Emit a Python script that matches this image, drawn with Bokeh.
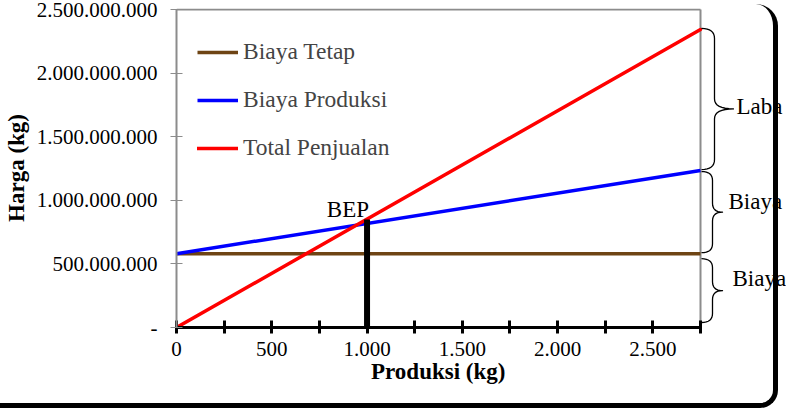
from bokeh.plotting import figure
from bokeh.models import Range1d, FixedTicker, Legend, LegendItem, Label, InlineStyleSheet, Title
from bokeh.core.properties import value
from bokeh.embed import file_html
from bokeh.resources import INLINE

# ---------------- data ----------------
produksi = [0, 2750]
biaya_tetap = [580000000, 580000000]
biaya_produksi = [580000000, 1234000000]
total_penjualan = [0, 2343000000]
bep_x = [1000]
bep_y = [850000000]
bep_text = "BEP"

x_ticks = [0, 500, 1000, 1500, 2000, 2500]
x_tick_labels = ["0", "500", "1.000", "1.500", "2.000", "2.500"]
x_minor_ticks = [250, 750, 1250, 1750, 2250, 2750]
y_ticks = [0, 500000000, 1000000000, 1500000000, 2000000000, 2500000000]
y_tick_labels = ["-", "500.000.000", "1.000.000.000", "1.500.000.000",
                 "2.000.000.000", "2.500.000.000"]
series_names = ["Biaya Tetap", "Biaya Produksi", "Total Penjualan"]
brace_labels = ["Laba", "Biaya", "Biaya"]
x_title = "Produksi (kg)"
y_title = "Harga (kg)"

X_MAX = 2750
Y_MAX = 2500000000

# ---------------- layout ----------------
W, H = 786, 408
LEFT, TOP, BOTTOM = 176, 8, 81
PLOT_W, PLOT_H = 524, 318          # pixel size of the data area (0..X_MAX, 0..Y_MAX)
DX = X_MAX / PLOT_W                 # data units per pixel
DY = Y_MAX / PLOT_H
FRAME_W = W - LEFT
FRAME_H = H - TOP - BOTTOM
Y0PX = TOP + FRAME_H                # pixel row of y = 0

def xd(px):
    return (px - LEFT) * DX

def yd(py):
    return (Y0PX - py) * DY

def ypx(v):
    return Y0PX - v / DY

FONT = "Liberation Serif"
GRAY = "#8c8c8c"

css = """
:host::after {
  content: "";
  position: absolute;
  left: 0px;
  top: 4px;
  width: 778px;
  height: 404px;
  box-sizing: border-box;
  border-right: 5px solid #000;
  border-bottom: 5px solid #000;
  border-top-right-radius: 22px;
  border-bottom-right-radius: 18px;
  pointer-events: none;
}
"""

p = figure(width=W, height=H, output_backend="svg", toolbar_location=None,
           x_range=Range1d(0, FRAME_W * DX), y_range=Range1d(0, FRAME_H * DY),
           min_border_left=LEFT, min_border_right=0,
           min_border_top=TOP, min_border_bottom=BOTTOM,
           stylesheets=[InlineStyleSheet(css=css)])
p.background_fill_color = "white"
p.border_fill_color = "white"
p.outline_line_color = None
p.xgrid.visible = False
p.ygrid.visible = False

# x axis
p.xaxis.bounds = (0, X_MAX)
p.xaxis.ticker = FixedTicker(ticks=x_ticks, minor_ticks=x_minor_ticks)
p.xaxis.major_label_overrides = dict(zip(x_ticks, x_tick_labels))
p.xaxis.axis_line_color = "black"
p.xaxis.axis_line_width = 3
p.xaxis.major_tick_line_color = "black"
p.xaxis.major_tick_line_width = 3
p.xaxis.major_tick_in = 7
p.xaxis.major_tick_out = 6
p.xaxis.minor_tick_line_color = "black"
p.xaxis.minor_tick_line_width = 3
p.xaxis.minor_tick_in = 7
p.xaxis.minor_tick_out = 6
p.xaxis.major_label_text_font = FONT
p.xaxis.major_label_text_font_size = "21px"
p.xaxis.major_label_text_color = "black"
p.xaxis.major_label_standoff = 8

# x axis title, centred under the data area (0..X_MAX)
TITLE_W = 135
p.add_layout(Title(text=x_title, align="left", offset=(PLOT_W - TITLE_W) / 2,
                   vertical_align="top", standoff=0,
                   text_font=FONT, text_font_size="23px", text_font_style="bold",
                   text_color="black"), "below")

# y axis
p.yaxis.bounds = (0, Y_MAX)
p.yaxis.ticker = FixedTicker(ticks=y_ticks, minor_ticks=[])
p.yaxis.major_label_overrides = dict(zip(y_ticks, y_tick_labels))
p.yaxis.axis_line_color = GRAY
p.yaxis.axis_line_width = 2
p.yaxis.major_tick_line_color = GRAY
p.yaxis.major_tick_line_width = 1
p.yaxis.major_tick_in = 6
p.yaxis.major_tick_out = 6
p.yaxis.minor_tick_line_color = None
p.yaxis.major_label_text_font = FONT
p.yaxis.major_label_text_font_size = "21px"
p.yaxis.major_label_text_color = "black"
p.yaxis.major_label_standoff = 13
p.yaxis.axis_label = y_title
p.yaxis.axis_label_text_font = FONT
p.yaxis.axis_label_text_font_size = "23px"
p.yaxis.axis_label_text_font_style = "bold"
p.yaxis.axis_label_text_color = "black"
p.yaxis.axis_label_standoff = 5

# plot-area border (top and right), gray
p.segment(x0=[0, X_MAX], y0=[Y_MAX, 0], x1=[X_MAX, X_MAX], y1=[Y_MAX, Y_MAX],
          line_color=GRAY, line_width=2)

# series
colors = ["#6E4414", "#0000FF", "#FF0000"]
r1 = p.line(produksi, biaya_tetap, line_color=colors[0], line_width=3.5)
r2 = p.line(produksi, biaya_produksi, line_color=colors[1], line_width=3.5)
r3 = p.line(produksi, total_penjualan, line_color=colors[2], line_width=3.5, line_cap="round")

# BEP marker
p.segment(x0=bep_x, y0=[0], x1=bep_x, y1=bep_y, line_color="black", line_width=6)
p.add_layout(Label(x=bep_x[0], y=bep_y[0], text=bep_text, text_align="right",
                   text_baseline="alphabetic", x_offset=2, y_offset=10,
                   text_font=FONT, text_font_size="23px", text_color="black"))

legend = Legend(items=[LegendItem(label=series_names[0], renderers=[r1]),
                       LegendItem(label=series_names[1], renderers=[r2]),
                       LegendItem(label=series_names[2], renderers=[r3])],
                location=(21, 166), padding=0, margin=0, spacing=21,
                glyph_width=41, glyph_height=24, label_height=24, label_standoff=5,
                label_text_font=FONT, label_text_font_size="23.5px",
                background_fill_alpha=0, border_line_alpha=0)
p.add_layout(legend)

# ---------------- braces ----------------
def quad(p0, c, p1, n=8):
    pts = []
    for i in range(1, n + 1):
        t = i / n
        x = (1 - t) ** 2 * p0[0] + 2 * (1 - t) * t * c[0] + t * t * p1[0]
        y = (1 - t) ** 2 * p0[1] + 2 * (1 - t) * t * c[1] + t * t * p1[1]
        pts.append((x, y))
    return pts

def brace(top, bot, frac, x0, xv, xt, r):
    tip = top + (bot - top) * frac
    pts = [(x0, top)]
    pts += quad((x0, top), (xv, top), (xv, top + r))
    pts.append((xv, tip - r))
    pts += quad((xv, tip - r), (xv, tip), (xt, tip))
    pts += quad((xt, tip), (xv, tip), (xv, tip + r))
    pts.append((xv, bot - r))
    pts += quad((xv, bot - r), (xv, bot), (x0, bot))
    return pts, tip

brace_specs = [
    (ypx(total_penjualan[-1]) - 1, ypx(biaya_produksi[-1]) - 1, 0.57, 714, 733, 10),
    (ypx(biaya_produksi[-1]) + 1, ypx(biaya_tetap[-1]) - 1, 0.5, 712, 722, 9),
    (ypx(biaya_tetap[-1]) + 5, ypx(0) - 5, 0.5, 712, 722, 9),
]
label_pos = [(736, -2), (728, -11), (732, -12)]
bxs, bys, lxs, lys = [], [], [], []
for (top, bot, frac, xv, xt, r), (lx, dy) in zip(brace_specs, label_pos):
    pts, tip = brace(top, bot, frac, 701, xv, xt, r)
    bxs.append([xd(a) for a, b in pts])
    bys.append([yd(b) for a, b in pts])
    lxs.append(xd(lx))
    lys.append(yd(tip + dy))

p.multi_line(bxs, bys, line_color="black", line_width=1.3, line_join="round")
p.text(lxs, lys, text=brace_labels, text_align="left", text_baseline="alphabetic",
       text_font=value(FONT), text_font_size="23px", text_color="black")

open("out.html", "w").write(file_html(p, INLINE))
